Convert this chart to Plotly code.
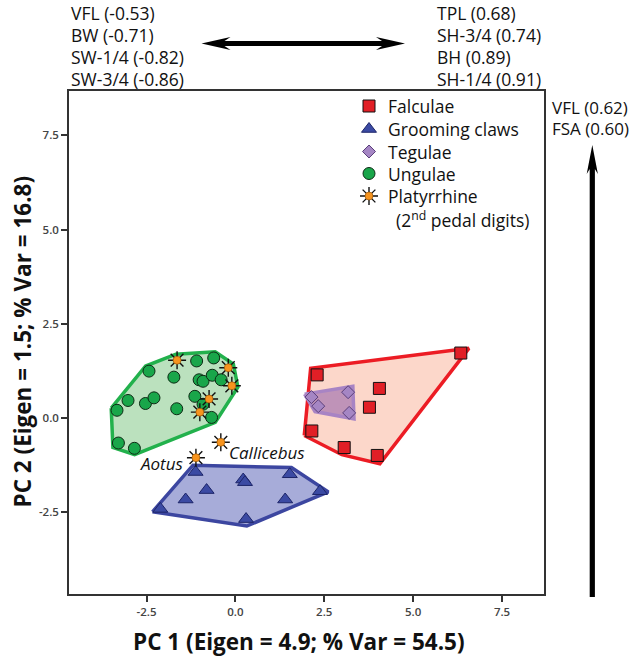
import numpy as np
import plotly.graph_objects as go

# ---------------- data ----------------
falc_x = [6.34, 2.30, 4.05, 3.77, 2.15, 3.06, 3.99]
falc_y = [1.72, 1.14, 0.78, 0.28, -0.35, -0.79, -1.00]

groom_x = [-1.12, 0.22, 0.27, 1.53, -0.81, -1.40, 1.40, 2.38, -2.11, 0.30]
groom_y = [-1.44, -1.64, -1.71, -1.50, -1.92, -2.17, -2.17, -1.95, -2.42, -2.69]

teg_x = [2.14, 2.33, 3.17, 3.20]
teg_y = [0.55, 0.31, 0.68, 0.13]

ung_x = [-1.09, -0.61, -2.43, -1.73, -1.02, -0.91, -0.65, -0.40, -3.02,
         -2.53, -2.29, -3.33, -1.65, -1.14, -0.91, -0.67, -3.29, -2.84]
ung_y = [1.51, 1.59, 1.24, 1.08, 1.01, 0.97, 1.13, 1.01, 0.46,
         0.38, 0.53, 0.20, 0.24, 0.57, 0.36, 0.01, -0.67, -0.81]

platy_x = [-1.64, -0.20, -0.10, -0.74, -1.00, -0.41, -1.11]
platy_y = [1.53, 1.33, 0.85, 0.50, 0.15, -0.65, -1.06]
platy_names = ["", "", "", "", "", "Callicebus", "Aotus"]

tick_vals = [-2.5, 0.0, 2.5, 5.0, 7.5]
tick_text = ["-2.5", "0.0", "2.5", "5.0", "7.5"]

left_loadings = ["VFL (-0.53)", "BW (-0.71)", "SW-1/4 (-0.82)", "SW-3/4 (-0.86)"]
right_loadings = ["TPL (0.68)", "SH-3/4 (0.74)", "BH (0.89)", "SH-1/4 (0.91)"]
pc2_loadings = ["VFL (0.62)", "FSA (0.60)"]

x_title = "PC 1 (Eigen = 4.9; % Var = 54.5)"
y_title = "PC 2 (Eigen = 1.5; % Var = 16.8)"

# ---------------- layout constants ----------------
W, H = 635, 657
L, R, T, B = 69, 544, 91, 594          # plot area in pixels
AX_RANGE = [-4.68, 8.68]
FONT = "Open Sans"


def px(x):
    return (x - L) / (R - L)


def py(y):
    return (B - y) / (B - T)


def hull(xs, ys, pad):
    pts = sorted(set(zip(xs, ys)))

    def cross(o, a, b):
        return (a[0] - o[0]) * (b[1] - o[1]) - (a[1] - o[1]) * (b[0] - o[0])

    lower, upper = [], []
    for p in pts:
        while len(lower) >= 2 and cross(lower[-2], lower[-1], p) <= 0:
            lower.pop()
        lower.append(p)
    for p in reversed(pts):
        while len(upper) >= 2 and cross(upper[-2], upper[-1], p) <= 0:
            upper.pop()
        upper.append(p)
    h = np.array(lower[:-1] + upper[:-1])  # CCW
    n = len(h)
    out = []
    for i in range(n):
        p0, p1, p2 = h[i - 1], h[i], h[(i + 1) % n]
        e1 = p1 - p0
        e2 = p2 - p1
        n1 = np.array([e1[1], -e1[0]]) / np.linalg.norm(e1)
        n2 = np.array([e2[1], -e2[0]]) / np.linalg.norm(e2)
        b = n1 + n2
        b = b / np.linalg.norm(b)
        m = min(pad / max(np.dot(b, n1), 0.35), 1.3 * pad)
        out.append(p1 + b * m)
    out.append(out[0])
    out = np.array(out)
    return out[:, 0], out[:, 1]


fig = go.Figure()

# ---------------- hulls ----------------
hx, hy = hull(falc_x, falc_y, 0.2)
fig.add_trace(go.Scatter(x=hx, y=hy, mode="lines", fill="toself",
                         fillcolor="rgba(245,130,90,0.32)",
                         line=dict(color="#ec1c24", width=3.5),
                         hoverinfo="skip", showlegend=False))
hx, hy = hull(teg_x, teg_y, 0.16)
fig.add_trace(go.Scatter(x=hx, y=hy, mode="lines", fill="toself",
                         fillcolor="rgba(130,80,165,0.5)",
                         line=dict(color="#a884c4", width=3.5),
                         hoverinfo="skip", showlegend=False))
hx, hy = hull(ung_x + platy_x[:5], ung_y + platy_y[:5], 0.16)
fig.add_trace(go.Scatter(x=hx, y=hy, mode="lines", fill="toself",
                         fillcolor="rgba(60,170,70,0.35)",
                         line=dict(color="#22b14c", width=3.5),
                         hoverinfo="skip", showlegend=False))
hx, hy = hull(groom_x, groom_y, 0.18)
fig.add_trace(go.Scatter(x=hx, y=hy, mode="lines", fill="toself",
                         fillcolor="rgba(60,70,170,0.45)",
                         line=dict(color="#3c46a0", width=3.5),
                         hoverinfo="skip", showlegend=False))

# ---------------- points ----------------
SQ = dict(symbol="square", size=12, color="#e11f26", line=dict(color="#111", width=1))
TR = dict(symbol="triangle-up", size=13, color="#3b4aa3", line=dict(color="#1c2468", width=1))
DI = dict(symbol="diamond", size=10, color="#a586c4", line=dict(color="#5a3f7a", width=1))
CI = dict(symbol="circle", size=12, color="#19a64a", line=dict(color="#0d2a14", width=1))
ST = dict(symbol="asterisk-open", size=15, color="#111", line=dict(color="#111", width=1.4))
STC = dict(symbol="circle", size=8, color="#f7941e", line=dict(color="#8a4b00", width=0.6))

fig.add_trace(go.Scatter(x=falc_x, y=falc_y, mode="markers", marker=SQ, name="Falculae", showlegend=False))
fig.add_trace(go.Scatter(x=teg_x, y=teg_y, mode="markers", marker=DI, name="Tegulae", showlegend=False))
fig.add_trace(go.Scatter(x=ung_x, y=ung_y, mode="markers", marker=CI, name="Ungulae", showlegend=False))
fig.add_trace(go.Scatter(x=groom_x, y=groom_y, mode="markers", marker=TR, name="Grooming claws", showlegend=False))
fig.add_trace(go.Scatter(x=platy_x, y=platy_y, mode="markers", marker=ST, name="Platyrrhine", showlegend=False))
fig.add_trace(go.Scatter(x=platy_x, y=platy_y, mode="markers", marker=STC, name="Platyrrhine", showlegend=False))

# labels for named platyrrhines
for xv, yv, nm in zip(platy_x, platy_y, platy_names):
    if nm == "Aotus":
        fig.add_annotation(x=xv, y=yv, text="<i>%s</i>" % nm, showarrow=False,
                           xanchor="right", yanchor="middle", xshift=-11, yshift=-6,
                           font=dict(family=FONT, size=17, color="#111"))
    elif nm:
        fig.add_annotation(x=xv, y=yv, text="<i>%s</i>" % nm, showarrow=False,
                           xanchor="left", yanchor="middle", xshift=6, yshift=-10,
                           font=dict(family=FONT, size=17, color="#111"))

# ---------------- manual legend (overlay pixel axes) ----------------
leg_names = ["Falculae", "Grooming claws", "Tegulae", "Ungulae", "Platyrrhine"]
leg_markers = [SQ, TR, DI, CI, ST]
leg_rows = [106, 129, 151.5, 173.5, 196]
for nm, mk, ry in zip(leg_names, leg_markers, leg_rows):
    fig.add_trace(go.Scatter(x=[369], y=[ry], xaxis="x2", yaxis="y2", mode="markers",
                             marker=mk, hoverinfo="skip", showlegend=False, cliponaxis=False))
    fig.add_annotation(xref="paper", yref="paper", x=px(386), y=py(ry), text=nm,
                       showarrow=False, xanchor="left", yanchor="middle",
                       font=dict(family=FONT, size=17.5, color="#111"))
fig.add_trace(go.Scatter(x=[369], y=[leg_rows[-1]], xaxis="x2", yaxis="y2", mode="markers",
                         marker=STC, hoverinfo="skip", showlegend=False, cliponaxis=False))
fig.add_annotation(xref="paper", yref="paper", x=px(394), y=py(219),
                   text="(2<sup>nd</sup> pedal digits)", showarrow=False,
                   xanchor="left", yanchor="middle",
                   font=dict(family=FONT, size=17.5, color="#111"))

# ---------------- loading text ----------------
for i, t in enumerate(left_loadings):
    fig.add_annotation(xref="paper", yref="paper", x=px(69), y=py(13.5 + 21.9 * i), text=t,
                       showarrow=False, xanchor="left", yanchor="middle",
                       font=dict(family=FONT, size=17.5, color="#111"))
for i, t in enumerate(right_loadings):
    fig.add_annotation(xref="paper", yref="paper", x=px(435), y=py(13.5 + 21.9 * i), text=t,
                       showarrow=False, xanchor="left", yanchor="middle",
                       font=dict(family=FONT, size=17.5, color="#111"))
for i, t in enumerate(pc2_loadings):
    fig.add_annotation(xref="paper", yref="paper", x=px(550), y=py(107.5 + 20.5 * i), text=t,
                       showarrow=False, xanchor="left", yanchor="middle",
                       font=dict(family=FONT, size=17, color="#111"))

# ---------------- arrows ----------------
def path(points):
    s = "M " + " L ".join("%.5f,%.5f" % (px(a), py(b)) for a, b in points) + " Z"
    return s

ax0, ax1, ay = 201.5, 405, 43.5
harrow = [(ax0, ay), (ax0 + 29, ay - 6.5), (ax0 + 23, ay - 2.6), (ax1 - 23, ay - 2.6),
          (ax1 - 29, ay - 6.5), (ax1, ay), (ax1 - 29, ay + 6.5), (ax1 - 23, ay + 2.6),
          (ax0 + 23, ay + 2.6), (ax0 + 29, ay + 6.5)]
vx, vy0, vy1 = 592.3, 145, 597
varrow = [(vx, vy0), (vx + 5.6, vy0 + 29), (vx + 2.6, vy0 + 24), (vx + 2.6, vy1),
          (vx - 2.6, vy1), (vx - 2.6, vy0 + 24), (vx - 5.6, vy0 + 29)]
shapes = [dict(type="path", xref="paper", yref="paper", path=path(harrow),
               fillcolor="#000", line=dict(width=0)),
          dict(type="path", xref="paper", yref="paper", path=path(varrow),
               fillcolor="#000", line=dict(width=0))]

# ---------------- axis titles ----------------
fig.add_annotation(xref="paper", yref="paper", x=px(299), y=py(641), text="<b>%s</b>" % x_title,
                   showarrow=False, xanchor="center", yanchor="middle",
                   font=dict(family=FONT, size=22.5, color="#111"))
fig.add_annotation(xref="paper", yref="paper", x=px(21.5), y=py(342), text="<b>%s</b>" % y_title,
                   showarrow=False, xanchor="center", yanchor="middle", textangle=-90,
                   font=dict(family=FONT, size=22.5, color="#111"))

axis_common = dict(range=AX_RANGE, tickvals=tick_vals, ticktext=tick_text,
                   showgrid=False, zeroline=False, showline=True, linecolor="#333",
                   linewidth=1.6, mirror=True, ticks="outside", ticklen=6, tickwidth=1.6,
                   tickcolor="#333",
                   tickfont=dict(family=FONT, size=11.5, color="#444", weight=600))

fig.update_layout(
    width=W, height=H,
    margin=dict(l=L, r=W - R, t=T, b=H - B),
    paper_bgcolor="white", plot_bgcolor="white",
    xaxis=dict(**axis_common),
    yaxis=dict(**axis_common),
    xaxis2=dict(overlaying="x", range=[L, R], visible=False, anchor="y2"),
    yaxis2=dict(overlaying="y", range=[B, T], visible=False, anchor="x2"),
    shapes=shapes,
    showlegend=False,
    font=dict(family=FONT),
)

fig.write_html("out.html", config={"displayModeBar": False},
               post_script="document.body.style.margin='0';document.body.style.overflow='hidden';")
